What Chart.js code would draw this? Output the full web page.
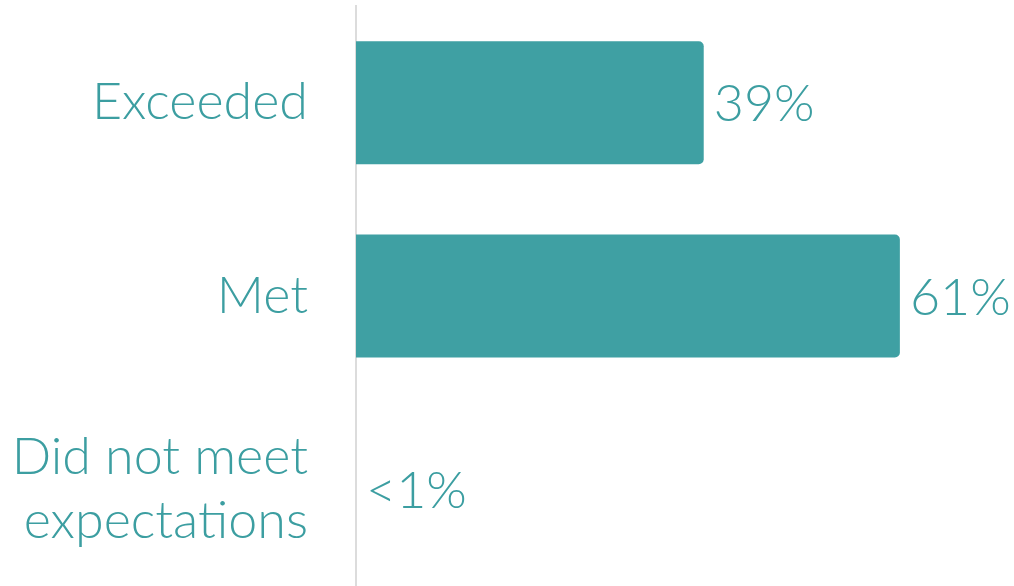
<!DOCTYPE html>
<html>
<head>
<meta charset="utf-8">
<script src="https://cdn.jsdelivr.net/npm/chart.js@4/dist/chart.umd.min.js"></script>
<style>
  html, body { margin: 0; padding: 0; background: #ffffff; }
  #wrap { width: 1014px; height: 586px; position: relative; }
</style>
</head>
<body>
<div id="wrap"><canvas id="chart"></canvas></div>
<script>
// Ratings share by category
const categories = [['Exceeded'], ['Met'], ['Did not meet', 'expectations']];
const shares = [39, 61, 0];
const shareLabels = ['39%', '61%', '<1%'];

const teal = '#3fa0a3';
const textTeal = '#3c9ea1';
const fontFamily = 'Lato, "Open Sans", sans-serif';
const fontSize = 52;
const fontWeight = '300';

// Writes the percentage just past the end of each bar
const valueLabels = {
  id: 'valueLabels',
  afterDatasetsDraw(chart) {
    const ctx = chart.ctx;
    const meta = chart.getDatasetMeta(0);
    ctx.save();
    ctx.font = fontWeight + ' ' + fontSize + 'px ' + fontFamily;
    ctx.fillStyle = textTeal;
    ctx.textAlign = 'left';
    ctx.textBaseline = 'middle';
    meta.data.forEach((bar, i) => {
      ctx.fillText(shareLabels[i], bar.x + 10, bar.y + 2);
    });
    ctx.restore();
  }
};

new Chart(document.getElementById('chart'), {
  type: 'bar',
  data: {
    labels: categories,
    datasets: [{
      data: shares,
      backgroundColor: teal,
      borderRadius: 5,
      borderSkipped: 'start',
      categoryPercentage: 1,
      barPercentage: 0.636
    }]
  },
  options: {
    indexAxis: 'y',
    responsive: true,
    maintainAspectRatio: false,
    animation: false,
    layout: { padding: { top: 6, right: 0, bottom: 0, left: 0 } },
    plugins: {
      legend: { display: false },
      tooltip: { enabled: false }
    },
    scales: {
      x: {
        display: false,
        min: 0,
        max: 73.8
      },
      y: {
        afterFit(scale) {
          scale.width = 356;
          scale.paddingTop = 0;
          scale.paddingBottom = 0;
        },
        grid: { display: false, drawTicks: false },
        border: { display: true, color: '#dcdcdc', width: 2 },
        ticks: {
          color: textTeal,
          padding: 48,
          font: { family: fontFamily, size: fontSize, weight: fontWeight, lineHeight: 1.22 }
        }
      }
    }
  },
  plugins: [valueLabels]
});
</script>
</body>
</html>
